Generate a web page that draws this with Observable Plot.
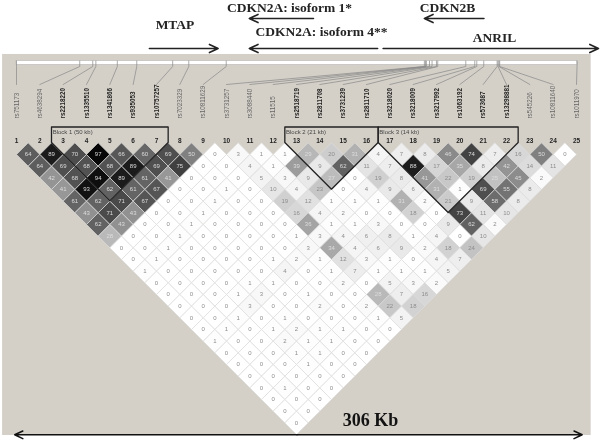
<!DOCTYPE html>
<html><head><meta charset="utf-8">
<script src="https://cdn.jsdelivr.net/npm/d3@7"></script>
<script src="https://cdn.jsdelivr.net/npm/@observablehq/plot@0.6"></script>
<style>html,body{margin:0;padding:0;background:#fff}svg{display:block;background:transparent !important;will-change:transform;filter:blur(0.3px)}svg text{opacity:.99}</style>
</head><body><div id="chart"></div>
<script>
const snpNames = ["rs751173","rs4638294","rs2218220","rs1335510","rs1341866","rs935053","rs10757257","rs7023329","rs10811629","rs3731257","rs3088440","rs11515","rs2518719","rs2811708","rs3731239","rs2811710","rs3218020","rs3218009","rs3217992","rs1063192","rs573687","rs13298881","rs545226","rs10811640","rs1011970"];
// physical position of each SNP along the 306 kb region
const snpKb = [0,34.5,41.6,43.3,55,65.6,85.2,94,114.4,222.5,223.1,223.6,225.3,226.7,229.1,229.8,245.1,250,251.1,254.9,262.2,262.7,263.2,263.6,305.8];
const blocks = [
  {label:"Block 1 (50 kb)", from:3, to:7},
  {label:"Block 2 (21 kb)", from:13, to:16},
  {label:"Block 3 (14 kb)", from:17, to:22}
];
// LD values (r2 x 100), one list per distance between markers
const ld1 = [64,89,70,97,66,60,69,50,0,3,1,1,29,20,31,4,7,8,46,74,7,16,50,0];
const ld2 = [64,69,68,68,89,69,75,0,0,4,1,39,9,62,11,7,88,17,35,8,42,14,11];
const ld3 = [42,68,94,89,61,41,0,0,0,5,3,9,27,0,19,8,41,22,19,25,45,2];
const ld4 = [41,93,62,61,67,0,0,1,0,10,4,23,0,4,9,6,31,1,69,55,8];
const ld5 = [61,62,71,67,0,0,1,0,0,19,12,1,1,1,31,2,21,9,58,8];
const ld6 = [43,71,43,0,0,1,0,0,0,16,4,2,0,0,18,0,73,11,10];
const ld7 = [62,43,0,0,1,0,0,0,0,36,1,1,3,0,0,9,62,2];
const ld8 = [28,0,0,1,0,0,0,0,1,3,4,6,8,1,4,0,10];
const ld9 = [0,0,1,0,0,0,0,0,3,34,4,6,9,2,18,24];
const ld10 = [0,1,0,0,0,0,1,2,1,12,3,1,0,4,7];
const ld11 = [1,0,0,0,0,0,4,0,1,7,1,1,1,5];
const ld12 = [0,0,0,0,1,1,0,0,2,0,5,3,2];
const ld13 = [0,0,0,1,3,0,1,0,0,28,7,16];
const ld14 = [0,0,0,3,0,0,2,0,2,22,18];
const ld15 = [0,0,1,0,1,0,0,0,1,5];
const ld16 = [0,1,0,1,2,1,1,0,0];
const ld17 = [1,0,0,2,1,1,0,0];
const ld18 = [0,0,0,1,1,0,0];
const ld19 = [0,0,0,1,0,0];
const ld20 = [0,0,0,0,0];
const ld21 = [0,1,0,0];
const ld22 = [0,0,0];
const ld23 = [0,0];
const ld24 = [0];
const ldRows = [ld1,ld2,ld3,ld4,ld5,ld6,ld7,ld8,ld9,ld10,ld11,ld12,ld13,ld14,ld15,ld16,ld17,ld18,ld19,ld20,ld21,ld22,ld23,ld24];
const genes = [
  {name:"MTAP", start:72.5, end:110},
  {name:"CDKN2A: isoform 1*", start:162, end:127},
  {name:"CDKN2A: isoform 4**", start:197, end:127},
  {name:"CDKN2B", start:255, end:222.5},
  {name:"ANRIL", start:200, end:317.5}
];

// x is in marker slots, y in LD rows
const slot = kb => 1 + kb / 306 * 24.04;
const slotPx = px => 1 + (px - 16) / 23.333;
const row = px => (px - 142.3) / 11.67;
const cells = ldRows.flatMap((vals, k) => vals.map((v, n) => ({x: n + 1 + (k + 1) / 2, y: k + 1, v})));
const markers = snpNames.map((name, n) => ({name, i: n + 1, kb: snpKb[n], bold: blocks.some(b => n + 1 >= b.from && n + 1 <= b.to)}));
const leaders = markers.flatMap(m => [
  {id: m.i, x: slot(m.kb), y: row(60.5)}, {id: m.i, x: slot(m.kb), y: row(66)}, {id: m.i, x: m.i, y: row(84)}
]);
const blockPath = blocks.flatMap(b => {
  const l = b.from - 0.5, r = b.to + 0.5, t = row(126.5), z = row(142);
  return [[l,t],[r,t],[r,z],[(l+r)/2, z + (r-l)],[l,z],[l,t]].map(([x,y]) => ({id:b.label,x,y}));
});
const serif = "'Liberation Serif','Times New Roman',serif";
const sans = "'Liberation Sans',Arial,sans-serif";
const geneTextX = [174.5,289,321,447,494];
const geneTextY = [24.5,7.5,31,7.5,37];
const geneY = [48,18,48,18,48];

const plot = Plot.plot({
  width: 600, height: 442, margin: 0,
  x: {domain: [slotPx(0), slotPx(600)], range: [0, 600], axis: null},
  y: {domain: [row(0), row(442)], range: [0, 442], axis: null},
  color: {type: "linear", domain: [0, 10, 30, 45, 65, 90, 100], range: ["#ffffff", "#e6e6e6", "#b4b4b4", "#8c8c8c", "#5a5a5a", "#181818", "#000000"]},
  marks: [
    Plot.rect([0], {x1: slot(-7.6), x2: slot(313.5), y1: row(54), y2: row(435), fill: "#d4d0c8"}),
    // chromosome strip and ticks
    Plot.rect([0], {x1: slot(0), x2: slot(306), y1: row(60.5), y2: row(64.5), fill: "#fff", stroke: "#aaa", strokeWidth: 0.5}),
    Plot.line(leaders, {x: "x", y: "y", z: "id", stroke: "#888", strokeWidth: 0.7}),
    Plot.text(markers, {x: "i", y: row(118), text: "name", rotate: -90, textAnchor: "start", fontSize: 6.3, fontFamily: sans, fill: "#666", filter: d => !d.bold}),
    Plot.text(markers, {x: "i", y: row(118), text: "name", rotate: -90, textAnchor: "start", fontSize: 6.3, fontWeight: "bold", fontFamily: sans, fill: "#222", filter: d => d.bold}),
    Plot.text(markers, {x: "i", y: row(140), text: "i", fontSize: 6.5, fontWeight: "bold", fontFamily: sans, fill: "#222"}),
    // LD cells
    Plot.dot(cells, {x: "x", y: "y", symbol: "diamond2", r: 10.5, fill: "v", stroke: "#dcdcdc", strokeWidth: 0.7}),
    Plot.text(cells, {x: "x", y: "y", text: "v", fontSize: 6, fontFamily: sans, fill: "#8c8c8c", filter: d => d.v < 25}),
    Plot.text(cells, {x: "x", y: "y", text: "v", fontSize: 6, fontFamily: sans, fill: "#ddd", filter: d => d.v >= 25}),
    // haplotype blocks
    Plot.line(blockPath, {x: "x", y: "y", z: "id", stroke: "#222", strokeWidth: 1.3}),
    Plot.text(blocks, {x: d => d.from - 0.45, y: row(132), text: "label", textAnchor: "start", fontSize: 6, fontFamily: sans, fill: "#444"}),
    // genes
    Plot.arrow(genes, {x1: d => slot(d.start), x2: d => slot(d.end), y1: (d, i) => row(geneY[i]), y2: (d, i) => row(geneY[i]), stroke: "#222", strokeWidth: 1.6, headLength: 9, headAngle: 50}),
    Plot.text(genes, {x: (d, i) => slotPx(geneTextX[i]), y: (d, i) => row(geneTextY[i]), text: "name", fontFamily: serif, fontWeight: "bold", fontSize: 13.5, fill: "#222"}),
    // region length
    Plot.arrow([0], {x1: slot(153), x2: slot(-1), y1: row(434.3), y2: row(434.3), stroke: "#111", strokeWidth: 1.5, headLength: 9, headAngle: 50}),
    Plot.arrow([0], {x1: slot(153), x2: slot(308.6), y1: row(434.3), y2: row(434.3), stroke: "#111", strokeWidth: 1.5, headLength: 9, headAngle: 50}),
    Plot.text(["306 Kb"], {x: slotPx(370), y: row(420), text: d => d, fontFamily: serif, fontWeight: "bold", fontSize: 18, fill: "#111"})
  ]
});
document.getElementById("chart").appendChild(plot);
</script></body></html>
